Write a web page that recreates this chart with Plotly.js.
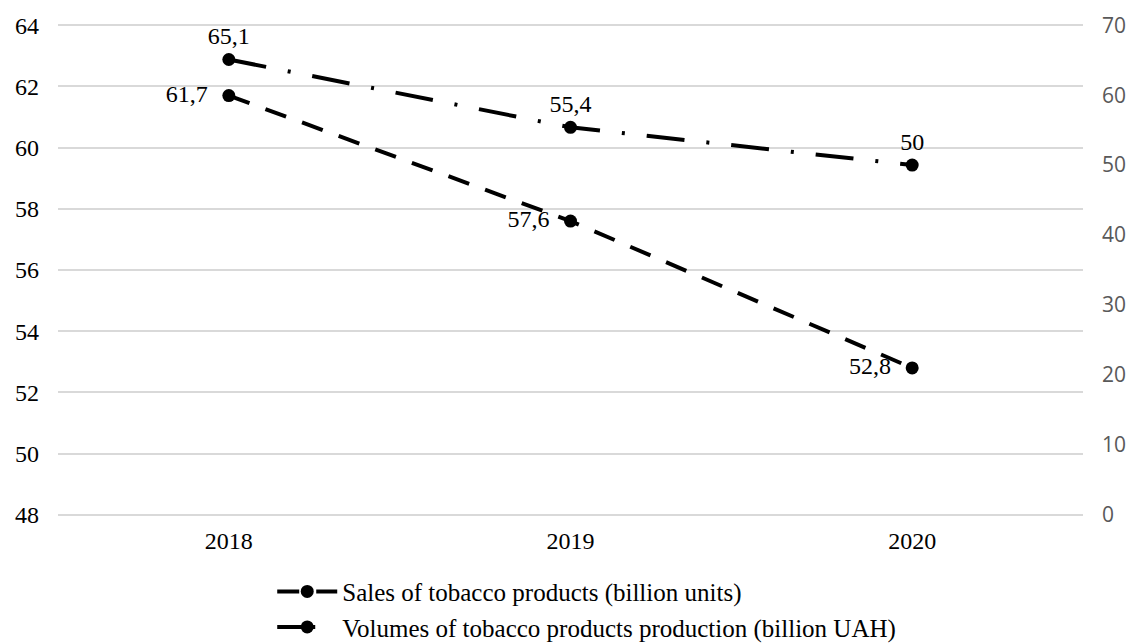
<!DOCTYPE html>
<html>
<head>
<meta charset="utf-8">
<script src="https://cdn.plot.ly/plotly-3.0.1.min.js"></script>
<style>html,body{margin:0;padding:0;background:#fff;}#chart{width:1133px;height:644px;}</style>
</head>
<body>
<div id="chart"></div>
<script>
var years = ['2018', '2019', '2020'];
var salesName = 'Sales of tobacco products (billion units)';
var salesValues = [61.7, 57.6, 52.8];
var volumeName = 'Volumes of tobacco products production (billion UAH)';
var volumeValues = [65.1, 55.4, 50];

function fmt(v) { return String(v).replace('.', ','); }

var serif = 'Liberation Serif, Times New Roman, serif';

var traces = [
  {
    x: years, y: salesValues, name: salesName, yaxis: 'y',
    type: 'scatter', mode: 'lines+markers+text',
    line: {color: '#000', width: 4, dash: '22px,17px'},
    marker: {color: '#000', size: 13},
    text: salesValues.map(function (v) { return fmt(v) + '\u00a0\u00a0'; }),
    textposition: 'middle left',
    textfont: {family: serif, size: 24, color: '#000'},
    legendgroup: 'a', cliponaxis: false
  },
  {
    x: years, y: volumeValues, name: volumeName, yaxis: 'y2',
    type: 'scatter', mode: 'lines+markers+text',
    line: {color: '#000', width: 4, dash: '38px,22px,3px,22px'},
    marker: {color: '#000', size: 13},
    text: volumeValues.map(fmt), textposition: 'top center',
    textfont: {family: serif, size: 24, color: '#000'},
    legendgroup: 'b', cliponaxis: false
  }
];

var layout = {
  width: 1133, height: 644,
  margin: {l: 58, r: 50, t: 24, b: 128, autoexpand: false},
  paper_bgcolor: '#fff', plot_bgcolor: '#fff',
  font: {family: serif, size: 24, color: '#000'},
  showlegend: true,
  legend: {
    orientation: 'v', x: 0.209, xanchor: 'left', y: -0.107, yanchor: 'top',
    font: {family: serif, size: 25, color: '#000'},
    traceorder: 'grouped', tracegroupgap: 0, itemwidth: 60
  },
  xaxis: {
    type: 'category', range: [-0.5, 2.5],
    showgrid: false, zeroline: false, showline: false, ticks: '',
    tickfont: {family: serif, size: 24, color: '#000'},
    ticklabelstandoff: 8
  },
  yaxis: {
    range: [47.96, 64.04], dtick: 2, tick0: 48,
    showgrid: true, gridcolor: '#d9d9d9', gridwidth: 2,
    zeroline: false, showline: false, ticks: '',
    tickfont: {family: serif, size: 24, color: '#000'},
    ticklabelstandoff: 18
  },
  yaxis2: {
    range: [-0.175, 70.175], dtick: 10, tick0: 0,
    overlaying: 'y', side: 'right',
    showgrid: false, zeroline: false, showline: false, ticks: '',
    tickfont: {family: 'Open Sans, DejaVu Sans, sans-serif', size: 21, color: '#595959'},
    ticklabelstandoff: 18
  }
};

Plotly.newPlot('chart', traces, layout, {displayModeBar: false, staticPlot: true});
</script>
</body>
</html>
